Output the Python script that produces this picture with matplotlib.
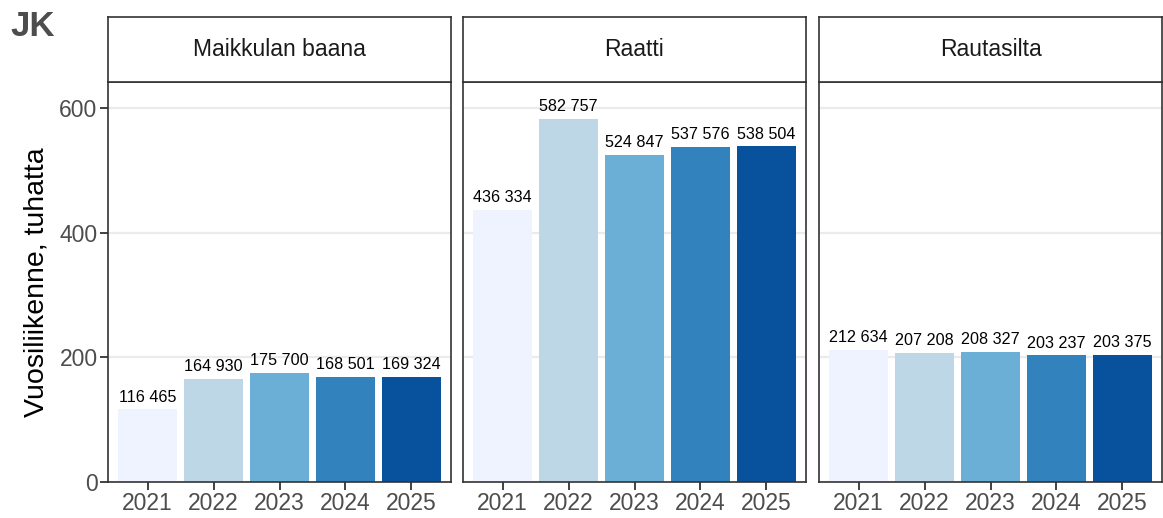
import numpy as np
import matplotlib.pyplot as plt

plt.rcParams['font.family'] = ['Liberation Sans', 'DejaVu Sans']

# data
years = ['2021', '2022', '2023', '2024', '2025']
paikat = ['Maikkulan baana', 'Raatti', 'Rautasilta']
maikkulan_baana = [116.465, 164.930, 175.700, 168.501, 169.324]
raatti = [436.334, 582.757, 524.847, 537.576, 538.504]
rautasilta = [212.634, 207.208, 208.327, 203.237, 203.375]
arvot = [maikkulan_baana, raatti, rautasilta]
y_ticks = [0, 200, 400, 600]

colors = ['#EFF3FF', '#BDD7E7', '#6BAED6', '#3182BD', '#08519C']
edge = '#333333'
W, H = 1163, 518

fig = plt.figure(figsize=(W / 100, H / 100), dpi=100)

lefts = [108, 463, 819]
pw = 343
bottom, top, strip_top = 482, 82, 17

def fmt(v):
    return f"{int(round(v * 1000)):,}".replace(',', ' ')

x = np.arange(len(years))
for i, (name, vals) in enumerate(zip(paikat, arvot)):
    ax = fig.add_axes([lefts[i] / W, (H - bottom) / H, pw / W, (bottom - top) / H])
    ax.bar(x, vals, width=0.9, color=colors, zorder=2)
    for xi, v in zip(x, vals):
        ax.annotate(fmt(v), (xi, v), xytext=(0, 3.5), textcoords='offset points',
                    ha='center', va='bottom', fontsize=11.6, color='black', zorder=3)
    ax.set_xlim(-0.6, 4.6)
    ax.set_ylim(0, 642)
    ax.set_yticks(y_ticks)
    ax.set_xticks(x)
    ax.set_xticklabels(years)
    ax.grid(axis='y', color='#EBEBEB', linewidth=1.6, zorder=0)
    ax.set_axisbelow(True)
    for s in ax.spines.values():
        s.set_color(edge)
        s.set_linewidth(1.2)
    ax.tick_params(axis='x', length=5.5, width=1.3, color=edge, labelsize=16.5,
                   labelcolor='#4D4D4D', pad=2)
    ax.tick_params(axis='y', length=5.5, width=1.3, color=edge, labelsize=16.5,
                   labelcolor='#4D4D4D', pad=2)
    if i == 0:
        ax.set_ylabel('Vuosiliikenne, tuhatta', fontsize=20.5, color='black', labelpad=7)
    else:
        ax.tick_params(axis='y', left=False, labelleft=False)

    # strip
    sx = fig.add_axes([lefts[i] / W, (H - top) / H, pw / W, (top - strip_top) / H])
    sx.set_xticks([])
    sx.set_yticks([])
    for s in sx.spines.values():
        s.set_color(edge)
        s.set_linewidth(1.2)
    sx.text(0.5, 0.5, name, ha='center', va='center', fontsize=16.5,
            color='#1A1A1A', transform=sx.transAxes)

fig.text(10 / W, 1 - 10 / H, 'JK', fontsize=25, fontweight='bold', color='#4D4D4D',
         ha='left', va='top')

fig.savefig('out.png', dpi=100)
